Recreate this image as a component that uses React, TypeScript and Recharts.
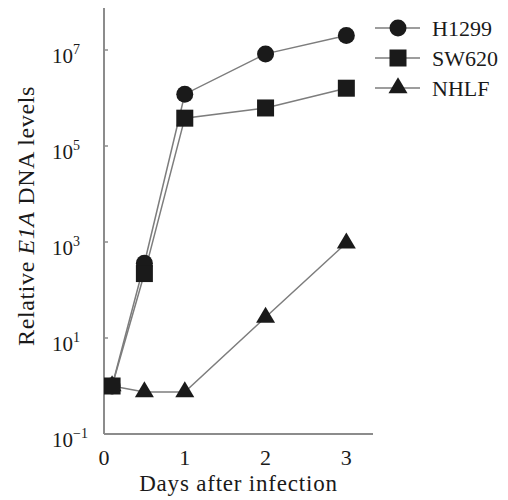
import { LineChart, Line, XAxis, YAxis } from 'recharts'

// days after infection, and E1A DNA levels (relative) per cell line
const days = [0.1, 0.5, 1, 2, 3]
const h1299 = [1, 360, 1.2e6, 8.3e6, 2.0e7]
const sw620 = [1, 220, 3.8e5, 6.2e5, 1.6e6]
const nhlf = [1, 0.75, 0.75, 27, 950]

const xTicks = [0, 1, 2, 3]
const yTicks = [0.1, 10, 1e3, 1e5, 1e7]
const seriesNames = ['H1299', 'SW620', 'NHLF']

const data = days.map((d, i) => ({ day: d, h1299: h1299[i], sw620: sw620[i], nhlf: nhlf[i] }))

const SERIF = '"Liberation Serif", "DejaVu Serif", serif'
const INK = '#1a1a1a'
const LINE = '#7d7d7d'
const AXIS = '#8c8c8c'

type Shape = 'circle' | 'square' | 'triangle'

function marker(shape: Shape, cx: number, cy: number, key?: string | number) {
  if (shape === 'circle') return <circle key={key} cx={cx} cy={cy} r={8.5} fill={INK} />
  if (shape === 'square') return <rect key={key} x={cx - 8.5} y={cy - 8.5} width={17} height={17} fill={INK} />
  const h = 16
  const w = 19
  return (
    <polygon
      key={key}
      points={`${cx},${cy - (2 * h) / 3} ${cx - w / 2},${cy + h / 3} ${cx + w / 2},${cy + h / 3}`}
      fill={INK}
    />
  )
}

const dotFor = (shape: Shape) => (p: any) => marker(shape, p.cx, p.cy, p.index)

function YTick({ y, payload }: any) {
  const exp = Math.round(Math.log10(payload.value))
  return (
    <text x={44} y={y + 13} fontSize={21} fontFamily={SERIF} fill={INK} textAnchor="start">
      10
      <tspan dy={-9} fontSize={14}>
        {exp < 0 ? '\u2212' + Math.abs(exp) : String(exp)}
      </tspan>
    </text>
  )
}

function XTick({ x, y, payload }: any) {
  return (
    <text x={x} y={y + 29} fontSize={22} fontFamily={SERIF} fill={INK} textAnchor="middle">
      {payload.value}
    </text>
  )
}

function YTitle({ viewBox }: any) {
  const cx = viewBox.x + 18
  const cy = viewBox.y + viewBox.height / 2 - 5
  return (
    <text
      x={cx}
      y={cy}
      transform={`rotate(-90 ${cx} ${cy})`}
      textAnchor="middle"
      dominantBaseline="central"
      fontSize={24}
      letterSpacing={0.6}
      fontFamily={SERIF}
      fill={INK}
    >
      Relative <tspan fontStyle="italic">E1A</tspan> DNA levels
    </text>
  )
}

function XTitle({ viewBox }: any) {
  return (
    <text
      x={viewBox.x + viewBox.width / 2}
      y={viewBox.y + 57}
      textAnchor="middle"
      fontSize={23}
      letterSpacing={0.8}
      fontFamily={SERIF}
      fill={INK}
    >
      Days after infection
    </text>
  )
}

const shapes: Shape[] = ['circle', 'square', 'triangle']

export default function App() {
  return (
    <div style={{ position: 'relative', width: 500, height: 492 }}>
      <LineChart width={500} height={492} data={data} margin={{ top: 0, right: 135, bottom: 0, left: 0 }}>
        <XAxis
          dataKey="day"
          type="number"
          domain={[0, 3.33]}
          ticks={xTicks}
          allowDataOverflow
          height={66}
          tickLine={false}
          tickSize={0}
          tick={<XTick />}
          axisLine={{ stroke: AXIS, strokeWidth: 2 }}
          label={<XTitle />}
        />
        <YAxis
          scale="log"
          domain={[0.1, 7.5e7]}
          ticks={yTicks}
          allowDataOverflow
          width={96}
          tickSize={-4}
          tickLine={{ stroke: AXIS, strokeWidth: 1.5 }}
          tick={<YTick />}
          axisLine={{ stroke: AXIS, strokeWidth: 2 }}
          label={<YTitle />}
        />
        <Line dataKey="nhlf" stroke={LINE} strokeWidth={1.5} dot={dotFor('triangle')} isAnimationActive={false} />
        <Line dataKey="h1299" stroke={LINE} strokeWidth={1.5} dot={dotFor('circle')} isAnimationActive={false} />
        <Line dataKey="sw620" stroke={LINE} strokeWidth={1.5} dot={dotFor('square')} isAnimationActive={false} />
      </LineChart>
      <svg width={500} height={110} style={{ position: 'absolute', left: 0, top: 0 }}>
        {seriesNames.map((name, i) => {
          const y = 20 + i * 30
          return (
            <g key={name}>
              <line x1={367} x2={412} y1={y} y2={y} stroke={LINE} strokeWidth={1.5} />
              {marker(shapes[i], 390, y)}
              <text x={424} y={y + 8} fontSize={22} fontFamily={SERIF} fill={INK}>
                {name}
              </text>
            </g>
          )
        })}
      </svg>
    </div>
  )
}
